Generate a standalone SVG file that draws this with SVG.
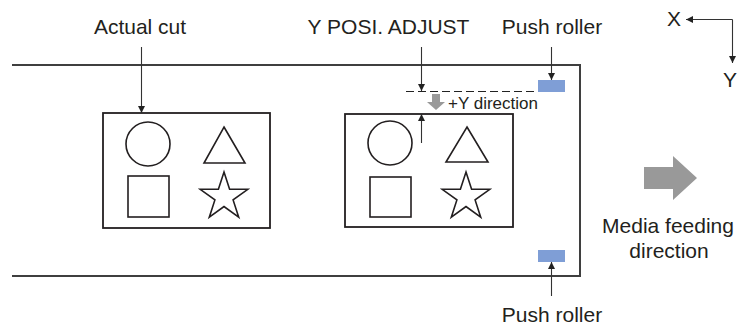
<svg xmlns="http://www.w3.org/2000/svg" width="737" height="325" viewBox="0 0 737 325">
<style>
text{font-family:"Liberation Sans",Arial,sans-serif;fill:#231f20}
.lbl{font-size:21px}
.sm{font-size:17px}
.shape{fill:none;stroke:#231f20;stroke-width:1.6}
.box{fill:#fff;stroke:#231f20;stroke-width:1.8}
.media{fill:none;stroke:#3f3f3f;stroke-width:2}
.conn{fill:none;stroke:#333;stroke-width:1.1}
.roller{fill:#7f9ed6}
.grey{fill:#999}
</style>
<defs>
<marker id="ah" viewBox="0 0 10 10" refX="10" refY="5" markerWidth="7" markerHeight="9" markerUnits="userSpaceOnUse" orient="auto">
<path d="M0,0 L10,5 L0,10 Z" fill="#222"/>
</marker>
<g id="star"><polygon points="0,-25 5.6,-7.7 23.8,-7.7 9.1,2.9 14.7,20.2 0,9.5 -14.7,20.2 -9.1,2.9 -23.8,-7.7 -5.6,-7.7"/></g>
</defs>
<g id="media">
<path class="media" d="M12,65 H580 V276 H12"/>
</g>
<g id="actual-cut-box">
<rect class="box" x="103" y="113" width="167" height="115"/>
<circle class="shape" cx="148" cy="144" r="22"/>
<polygon class="shape" points="224,127 245,163 204,163"/>
<rect class="shape" x="128" y="176" width="41" height="41"/>
<use href="#star" class="shape" x="224" y="197"/>
</g>
<g id="adjusted-box">
<rect class="box" x="345" y="114" width="168" height="113"/>
<circle class="shape" cx="390" cy="143" r="22"/>
<polygon class="shape" points="467,127 488,162 446,162"/>
<rect class="shape" x="370" y="177" width="41" height="40"/>
<use href="#star" class="shape" x="466" y="197"/>
</g>
<g id="push-roller-top"><rect class="roller" x="538" y="80" width="27" height="12"/></g>
<g id="push-roller-bottom"><rect class="roller" x="538" y="250" width="27" height="12"/></g>
<g id="feed-arrow"><polygon class="grey" points="644,167 673,167 673,156 697,178 673,200 673,189 644,189"/></g>
<g id="y-arrow"><polygon class="grey" points="432,94 440,94 440,102 445,102 436,110 427,102 432,102"/></g>
<g id="connectors">
<line class="conn" x1="141.5" y1="47" x2="141.5" y2="113" marker-end="url(#ah)"/>
<line class="conn" x1="421.5" y1="47" x2="421.5" y2="91" marker-end="url(#ah)"/>
<line class="conn" x1="421.5" y1="143" x2="421.5" y2="114" marker-end="url(#ah)"/>
<line class="conn" x1="551.5" y1="47" x2="551.5" y2="80" marker-end="url(#ah)"/>
<line class="conn" x1="551.5" y1="296" x2="551.5" y2="262" marker-end="url(#ah)"/>
<line x1="406" y1="91.5" x2="537" y2="91.5" stroke="#222" stroke-width="1" stroke-dasharray="8,4"/>
<path class="conn" d="M732.5,19.5 H686" marker-end="url(#ah)"/>
<path class="conn" d="M732.5,19.5 V63" marker-end="url(#ah)"/>
</g>
<g id="labels">
<text class="lbl" x="140" y="34" text-anchor="middle">Actual cut</text>
<text class="lbl" x="388.5" y="34" text-anchor="middle">Y POSI. ADJUST</text>
<text class="lbl" x="552" y="34" text-anchor="middle">Push roller</text>
<text class="lbl" x="552" y="322" text-anchor="middle">Push roller</text>
<text class="sm" x="448" y="109">+Y direction</text>
<text class="lbl" x="668" y="233" text-anchor="middle">Media feeding</text>
<text class="lbl" x="669" y="258" text-anchor="middle">direction</text>
<text class="lbl" x="674" y="26" text-anchor="middle">X</text>
<text class="lbl" x="730" y="87" text-anchor="middle">Y</text>
</g>
</svg>
